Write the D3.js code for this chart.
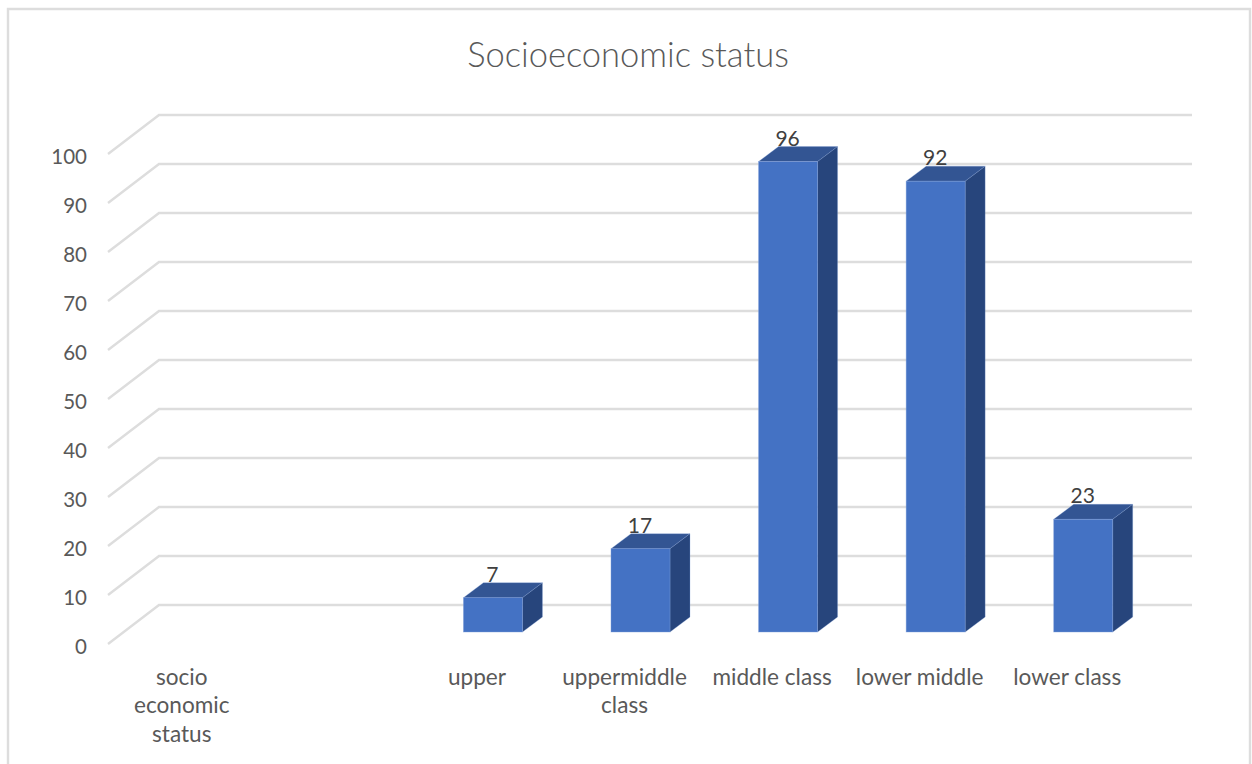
<!DOCTYPE html>
<html>
<head>
<meta charset="utf-8">
<script src="https://cdn.jsdelivr.net/npm/d3@7/dist/d3.min.js"></script>
<style>
html,body{margin:0;padding:0;background:#fff;overflow:hidden}
svg{display:block}
text{font-family:Lato,"Open Sans",sans-serif}
</style>
</head>
<body>
<svg id="chart" width="1252" height="764"></svg>
<script>
const titleText = "Socioeconomic status";
const categories = ["socio economic status", " ", "upper", "uppermiddle class", "middle class", "lower middle", "lower class"];
const values = [null, null, 7, 17, 96, 92, 23];
const yTicks = [0, 10, 20, 30, 40, 50, 60, 70, 80, 90, 100];

const svg = d3.select("#chart");
const floor = {left: 108, right: 1141, front: 644, top: 154};
const wall = {dx: 51, dy: 39};
const barDepth = {dx: 20, dy: 15};
const barOffset = {dx: 16, dy: 12};
const barWidth = 59;
const gridColor = "#dddddd";

const x = d3.scaleBand().domain(categories).range([floor.left, floor.right]);
const y = d3.scaleLinear().domain([0, 100]).range([floor.front, floor.top]);

// chart frame
svg.append("path")
  .attr("d", "M8,764V9H1250V764")
  .attr("fill", "none").attr("stroke", gridColor).attr("stroke-width", 2.4);

// title
svg.append("text").attr("x", 628).attr("y", 67)
  .attr("text-anchor", "middle").attr("font-size", 34.5).attr("font-weight", 300).attr("fill", "#595959")
  .text(titleText);

// gridlines: side wall and back wall
svg.append("g").selectAll("path").data(yTicks).join("path")
  .attr("fill", "none").attr("stroke", gridColor).attr("stroke-width", 2.4)
  .attr("d", d => {
    const p = d3.path();
    p.moveTo(floor.left, y(d));
    p.lineTo(floor.left + wall.dx, y(d) - wall.dy);
    p.lineTo(floor.right + wall.dx, y(d) - wall.dy);
    return p.toString();
  });

// value axis
const yAxis = svg.append("g").attr("transform", "translate(87,3)")
  .call(d3.axisLeft(y).tickValues(yTicks).tickSize(0).tickPadding(0));
yAxis.select(".domain").remove();
yAxis.selectAll("text").attr("font-size", 20.5).attr("fill", "#595959").style("font-family", "Lato,sans-serif");

// category axis with wrapped labels
const catSize = 22.6;
const xAxis = svg.append("g").attr("transform", "translate(0,685)");
const measure = svg.append("text").attr("font-size", catSize).attr("visibility", "hidden");
function wrap(label, maxW) {
  const lines = [];
  let cur = "";
  label.trim().split(/\s+/).forEach(word => {
    const t = cur ? cur + " " + word : word;
    measure.text(t);
    if (cur && measure.node().getComputedTextLength() > maxW) { lines.push(cur); cur = word; }
    else cur = t;
  });
  if (cur) lines.push(cur);
  return lines;
}
xAxis.selectAll("text.cat").data(categories).join("text")
  .attr("class", "cat")
  .attr("font-size", catSize).attr("fill", "#595959").attr("text-anchor", "middle")
  .each(function (d) {
    const cx = x(d) + x.bandwidth() / 2;
    d3.select(this).selectAll("tspan").data(wrap(d, 135)).join("tspan")
      .attr("x", cx).attr("y", (l, i) => i * 28.4).text(l => l);
  });
measure.remove();

// 3D bars
const barData = categories.map((c, i) => ({c, v: values[i]})).filter(d => d.v !== null);
const bars = svg.append("g").selectAll("g").data(barData).join("g");
const bx0 = d => x(d.c) + x.bandwidth() / 2 + barOffset.dx - barWidth / 2;
const by = v => y(v) - barOffset.dy;
const edge = {stroke: "#7f9fd8", w: 0.7};

bars.append("path").attr("fill", "#335593").attr("stroke", edge.stroke).attr("stroke-width", edge.w)
  .attr("stroke-opacity", 0.4)
  .attr("d", d => {
    const l = bx0(d), t = by(d.v);
    return `M${l},${t}l${barDepth.dx},${-barDepth.dy}h${barWidth}l${-barDepth.dx},${barDepth.dy}Z`;
  });
bars.append("path").attr("fill", "#27457c").attr("stroke", edge.stroke).attr("stroke-width", edge.w)
  .attr("stroke-opacity", 0.4)
  .attr("d", d => {
    const r = bx0(d) + barWidth, t = by(d.v), b = by(0);
    return `M${r},${t}l${barDepth.dx},${-barDepth.dy}V${b - barDepth.dy}L${r},${b}Z`;
  });
bars.append("rect").attr("fill", "#4472c4").attr("stroke", edge.stroke).attr("stroke-width", edge.w)
  .attr("stroke-opacity", 0.6)
  .attr("x", bx0).attr("y", d => by(d.v)).attr("width", barWidth)
  .attr("height", d => by(0) - by(d.v));

// data labels
bars.append("text")
  .attr("x", d => bx0(d) + barWidth / 2 - 0.5).attr("y", d => by(d.v) - 16)
  .attr("text-anchor", "middle").attr("font-size", 21).attr("fill", "#404040")
  .text(d => d.v);
</script>
</body>
</html>
